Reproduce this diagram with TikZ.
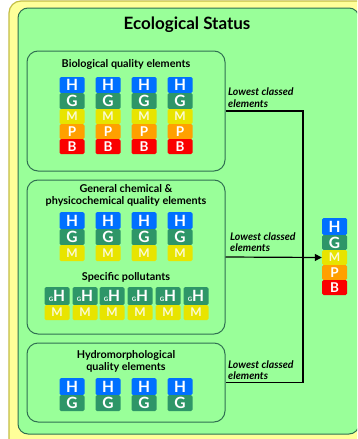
\documentclass[tikz,border=0pt]{standalone}
\usepackage{fontspec}
\setmainfont{Lato}
\usetikzlibrary{arrows.meta}
\definecolor{hcol}{RGB}{0,112,255}
\definecolor{gcol}{RGB}{46,150,104}
\definecolor{mcol}{RGB}{232,228,0}
\definecolor{pcol}{RGB}{255,160,0}
\definecolor{bcol}{RGB}{250,0,0}
\definecolor{greenbg}{RGB}{153,255,153}
\definecolor{greenbd}{RGB}{48,112,82}
\definecolor{yellowbg}{RGB}{255,255,153}
\definecolor{yellowbd}{RGB}{196,190,70}
\definecolor{mtext}{RGB}{250,250,215}
\newcommand\tilecell[7]{%
  \node[cell, fill=#5, minimum height={#4-#3}, text height={0.72*#7}, font=\bfseries\fontsize{#7}{#7}\selectfont] (#1) at (#2,{(#3+#4)/2}) {#6};}
\begin{document}
\begin{tikzpicture}[x=1pt,y=-1pt,
  cell/.style={rounded corners=1.5pt, inner sep=0pt, text=white, minimum width=25pt, text depth=0pt},
  box/.style={draw=greenbd, line width=1pt, fill=greenbg, rounded corners=11pt, inner sep=0pt, minimum width=198pt},
  boxtitle/.style={font=\bfseries\fontsize{10.8}{12}\selectfont, align=center, inner sep=0pt},
  lbl/.style={font=\bfseries\itshape\fontsize{10.5}{11.5}\selectfont, align=left, inner sep=0pt, anchor=west},
  conn/.style={line width=1.2pt, black}]
\useasboundingbox (0,0) rectangle (357,439);
\clip (0,0) rectangle (357,439);
\fill[white] (0,0) rectangle (357,439);
\draw[fill=yellowbg, draw=yellowbd, line width=1.2pt, rounded corners=12pt] (9,1) rectangle (385,470);
\draw[fill=greenbg, draw=greenbd, line width=1pt, rounded corners=10pt] (18,8) rectangle (359,434);
\node[font=\bfseries\fontsize{17}{17}\selectfont, inner sep=0pt] (title) at (187,25) {Ecological Status};
% boxes
\node[box, minimum height=120pt] (b1) at (126,111) {};
\node[box, minimum height=154pt] (b2) at (126,257) {};
\node[box, minimum height=79pt] (b3) at (126,382.5) {};
\node[boxtitle] (t1) at (126,64) {Biological quality elements};
\node[boxtitle] (t2) at (126,195) {General chemical \&\\physicochemical quality elements};
\node[boxtitle] (t3) at (126,277) {Specific pollutants};
\node[boxtitle] (t4) at (126,361) {Hydromorphological\\quality elements};
% biological tiles
\foreach \i/\x in {1/72,2/108,3/144,4/180}{
  \tilecell{bH\i}{\x}{77}{93}{hcol}{H}{15.5}
  \tilecell{bG\i}{\x}{93}{109}{gcol}{G}{15.5}
  \tilecell{bM\i}{\x}{109}{124}{mcol}{\textcolor{mtext}{M}}{12}
  \tilecell{bP\i}{\x}{124}{139}{pcol}{P}{13.5}
  \tilecell{bB\i}{\x}{139}{154}{bcol}{B}{13.5}
}
% chemical tiles
\foreach \i/\x in {1/72,2/108,3/144,4/180}{
  \tilecell{cH\i}{\x}{212}{229}{hcol}{H}{15.5}
  \tilecell{cG\i}{\x}{229}{245}{gcol}{G}{15.5}
  \tilecell{cM\i}{\x}{245}{261}{mcol}{\textcolor{mtext}{M}}{12}
}
% specific pollutants
\foreach \i/\x in {1/57,2/85,3/112,4/140,5/168,6/196}{
  \tilecell{sH\i}{\x}{287}{305}{gcol}{{\fontsize{6}{6}\selectfont G}H}{15.5}
  \tilecell{sM\i}{\x}{305}{320}{mcol}{\textcolor{mtext}{M}}{12}
}
% hydromorphological tiles
\foreach \i/\x in {1/72,2/108,3/144,4/180}{
  \tilecell{hH\i}{\x}{378}{395}{hcol}{H}{15.5}
  \tilecell{hG\i}{\x}{395}{411}{gcol}{G}{15.5}
}
% result tile
\tilecell{rH}{334.5}{218}{235}{hcol}{H}{15.5}
\tilecell{rG}{334.5}{235}{250}{gcol}{G}{15.5}
\tilecell{rM}{334.5}{250}{265}{mcol}{\textcolor{mtext}{M}}{12}
\tilecell{rP}{334.5}{265}{280}{pcol}{P}{13.5}
\tilecell{rB}{334.5}{280}{295}{bcol}{B}{13.5}
% labels
\node[lbl] (l1) at (228,97.5) {Lowest classed\\elements};
\node[lbl] (l2) at (230,242) {Lowest classed\\elements};
\node[lbl] (l3) at (228,370) {Lowest classed\\elements};
% connectors
\coordinate (j) at (303,257);
\draw[conn] (b1.east) -| (j) |- (b3.east);
\draw[conn, -{Triangle[length=7pt,width=7pt]}] (b2.east) -- (rM.west);
\end{tikzpicture}
\end{document}
